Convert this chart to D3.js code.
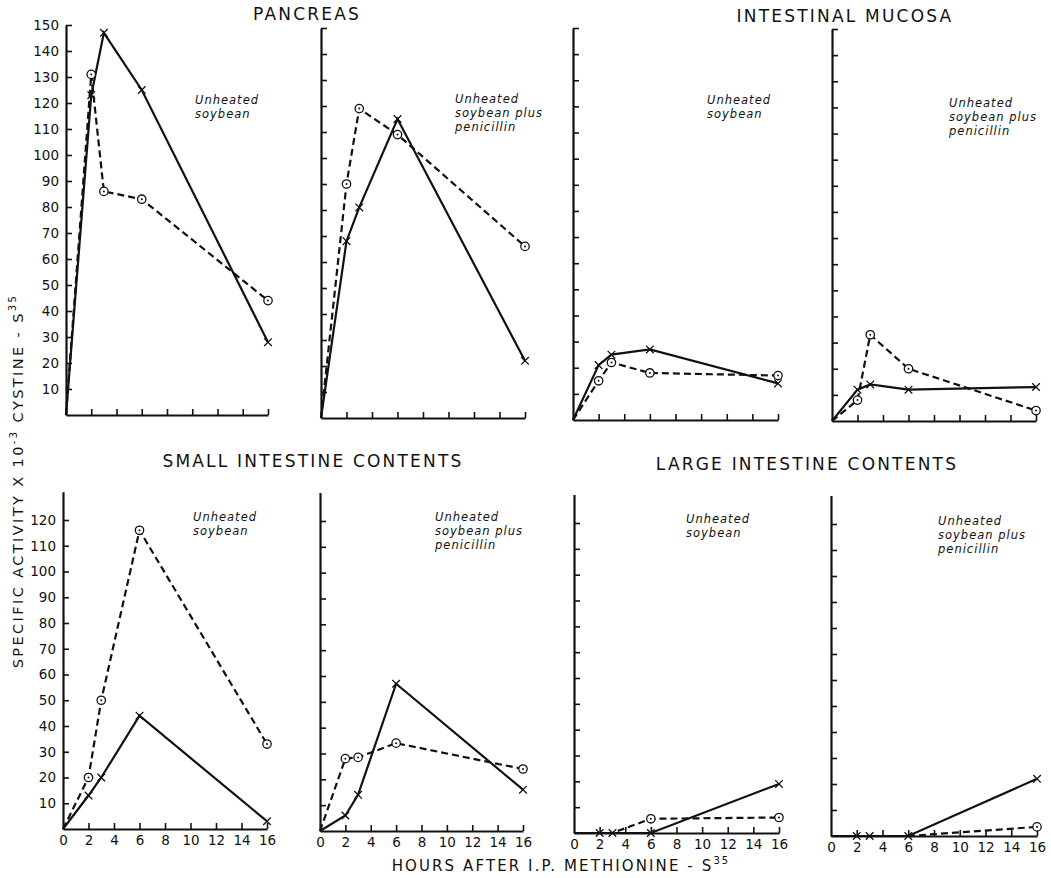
<!DOCTYPE html>
<html>
<head>
<meta charset="utf-8">
<script src="https://cdn.jsdelivr.net/npm/d3@7/dist/d3.min.js"></script>
<style>
  body { margin: 0; background: #fff; }
  svg { display: block; }
  text { font-family: "DejaVu Sans", sans-serif; fill: #111; }
  .note { font-style: italic; font-size: 11.5px; letter-spacing: 1px; }
  .ttl { font-size: 17px; letter-spacing: 2.2px; }
  .tick text { font-size: 13.5px; }
</style>
</head>
<body>
<svg id="chart" width="1051" height="878"></svg>
<script>
// horas despues de la inyeccion
const hours = [0, 2, 3, 6, 16];
const xTicks = [2, 4, 6, 8, 10, 12, 14, 16];
const xLabels = [0, 2, 4, 6, 8, 10, 12, 14, 16];
const yTicksTop = [10, 20, 30, 40, 50, 60, 70, 80, 90, 100, 110, 120, 130, 140, 150];
const yTicksBottom = [10, 20, 30, 40, 50, 60, 70, 80, 90, 100, 110, 120];

// pancreas
const pancSoyX = [0, 123, 147, 125, 28];
const pancSoyO = [0, 131, 86, 83, 44];
const pancPenX = [0, 68, 81, 115, 22];
const pancPenO = [0, 90, 119, 109, 66];
// mucosa intestinal
const mucSoyX = [0, 21, 25, 27, 14];
const mucSoyO = [0, 15, 22, 18, 17];
const mucPenX = [0, 12, 14, 12, 13];
const mucPenO = [0, 8, 33, 20, 4];
// contenido intestino delgado
const smSoyX = [0, 13, 20, 44, 3];
const smSoyO = [0, 20, 50, 116, 33];
const smPenX = [0, 6, 14, 57, 16];
const smPenO = [0, 28, 28.5, 34, 24];
// contenido intestino grueso
const lgSoyX = [0, 0, 0, 0, 19];
const lgSoyO = [0, 0, 0, 5.5, 6];
const lgPenX = [0, 0, 0, 0, 22];
const lgPenO = [0, 0, 0, 0, 3.5];

const titles = ["PANCREAS", "INTESTINAL MUCOSA", "SMALL INTESTINE CONTENTS", "LARGE INTESTINE CONTENTS"];
const noteSoy = ["Unheated", "soybean"];
const notePen = ["Unheated", "soybean plus", "penicillin"];

// posicion de cada panel (pixeles)
const panels = [
  {x0: 66, x16: 268, y0: 415, yv: 150, yp: 25, top: 150, ticks: yTicksTop, labels: true, xlab: false, X: pancSoyX, O: pancSoyO, note: noteSoy, nx: 195, ny: 104},
  {x0: 321, x16: 525, y0: 418, yv: 150, yp: 28, top: 150, ticks: yTicksTop, labels: false, xlab: false, X: pancPenX, O: pancPenO, note: notePen, nx: 455, ny: 103},
  {x0: 573, x16: 778, y0: 420, yv: 150, yp: 28, top: 150, ticks: yTicksTop, labels: false, xlab: false, X: mucSoyX, O: mucSoyO, note: noteSoy, nx: 707, ny: 104},
  {x0: 832, x16: 1036, y0: 421, yv: 150, yp: 29, top: 150, ticks: yTicksTop, labels: false, xlab: false, X: mucPenX, O: mucPenO, note: notePen, nx: 949, ny: 107},
  {x0: 63, x16: 267, y0: 829, yv: 120, yp: 520, top: 131, ticks: yTicksBottom, labels: true, xlab: true, X: smSoyX, O: smSoyO, note: noteSoy, nx: 193, ny: 521},
  {x0: 320, x16: 523, y0: 831, yv: 120, yp: 521, top: 131, ticks: yTicksBottom, labels: false, xlab: true, X: smPenX, O: smPenO, note: notePen, nx: 435, ny: 521},
  {x0: 574, x16: 779, y0: 833, yv: 120, yp: 523, top: 131, ticks: yTicksBottom, labels: false, xlab: true, X: lgSoyX, O: lgSoyO, note: noteSoy, nx: 686, ny: 523},
  {x0: 831, x16: 1037, y0: 836, yv: 120, yp: 524, top: 131, ticks: yTicksBottom, labels: false, xlab: true, X: lgPenX, O: lgPenO, note: notePen, nx: 938, ny: 525}
];

const svg = d3.select("#chart");
const ink = "#111";

panels.forEach(p => {
  const x = d3.scaleLinear().domain([0, 16]).range([p.x0, p.x16]);
  const y = d3.scaleLinear().domain([0, p.yv]).range([p.y0, p.yp]);
  const g = svg.append("g");

  // eje y: ticks hacia adentro
  const ya = d3.axisLeft(y.copy().domain([0, p.top]).range([p.y0, y(p.top)]))
    .tickValues(p.ticks).tickSizeInner(-6).tickSizeOuter(0).tickPadding(7);
  if (!p.labels) ya.tickFormat("");
  g.append("g").attr("transform", `translate(${p.x0},0)`).call(ya);

  // eje x
  const xa = d3.axisBottom(x).tickValues(p.xlab ? xLabels : xTicks)
    .tickSizeInner(-6).tickSizeOuter(0).tickPadding(6);
  if (!p.xlab) xa.tickFormat("");
  g.append("g").attr("transform", `translate(0,${p.y0})`).call(xa);

  g.selectAll(".domain").attr("stroke", ink).attr("stroke-width", 2.2);
  g.selectAll(".tick line").attr("stroke", ink).attr("stroke-width", 1.6);
  g.selectAll(".tick text").attr("fill", ink);
  g.selectAll(".tick").filter(d => d === 0).select("line").remove();

  const line = d3.line().x((d, i) => x(hours[i])).y(d => y(d));

  // linea discontinua (circulos)
  g.append("path").datum(p.O).attr("d", line)
    .attr("fill", "none").attr("stroke", ink).attr("stroke-width", 2.2)
    .attr("stroke-dasharray", "7,4");
  // linea continua (cruces)
  g.append("path").datum(p.X).attr("d", line)
    .attr("fill", "none").attr("stroke", ink).attr("stroke-width", 2.2);

  // marcas X
  const s = 3.8;
  g.selectAll(".xm").data(p.X.slice(1)).join("path")
    .attr("d", (d, i) => {
      const cx = x(hours[i + 1]), cy = y(d);
      return `M${cx - s},${cy - s}L${cx + s},${cy + s}M${cx - s},${cy + s}L${cx + s},${cy - s}`;
    })
    .attr("stroke", ink).attr("stroke-width", 1.3);

  // marcas O
  const om = g.selectAll(".om").data(p.O.slice(1).map((v, i) => ({h: hours[i + 1], v})).filter(d => d.v > 0))
    .join("g").attr("transform", d => `translate(${x(d.h)},${y(d.v)})`);
  om.append("circle").attr("r", 4.2).attr("fill", "#fff").attr("stroke", ink).attr("stroke-width", 1.3);
  om.append("circle").attr("r", 1).attr("fill", ink);

  // nota
  const t = g.append("text").attr("class", "note").attr("x", p.nx).attr("y", p.ny);
  p.note.forEach((l, i) => t.append("tspan").attr("x", p.nx).attr("dy", i ? 14 : 0).text(l));
});

// titulos
[[307, 20], [845, 22], [313, 467], [807, 470]].forEach((pos, i) => {
  svg.append("text").attr("class", "ttl").attr("x", pos[0]).attr("y", pos[1])
    .attr("text-anchor", "middle").text(titles[i]);
});

// etiqueta eje y
const yl = svg.append("text").attr("transform", "translate(23,481) rotate(-90)")
  .attr("text-anchor", "middle").style("font-size", "14.5px").style("letter-spacing", "2.4px");
yl.append("tspan").text("SPECIFIC  ACTIVITY  X  10");
yl.append("tspan").attr("dy", -6).style("font-size", "10px").text("-3");
yl.append("tspan").attr("dy", 6).text("  CYSTINE - S");
yl.append("tspan").attr("dy", -7).style("font-size", "10px").text("35");

// etiqueta eje x
const xl = svg.append("text").attr("x", 561).attr("y", 871)
  .attr("text-anchor", "middle").style("font-size", "15px").style("letter-spacing", "2.1px");
xl.append("tspan").text("HOURS AFTER I.P. METHIONINE - S");
xl.append("tspan").attr("dy", -7).style("font-size", "10px").text("35");
</script>
</body>
</html>
